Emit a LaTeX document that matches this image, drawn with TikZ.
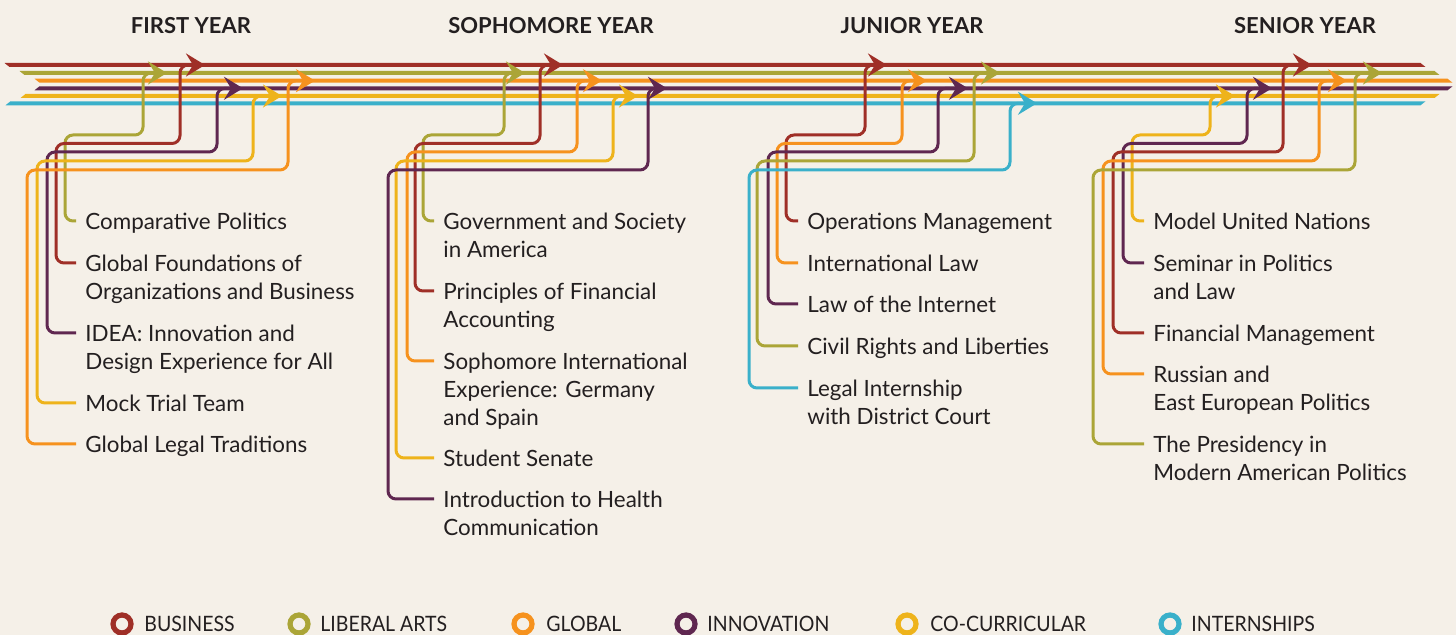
\documentclass[tikz,border=0pt]{standalone}
\usepackage{fontspec}
\setmainfont{Lato}
\newfontfamily\legendfont{Lato}[FakeStretch=0.92]
\usetikzlibrary{arrows.meta}

\definecolor{bgcream}{HTML}{F5F0E8}
\definecolor{ink}{HTML}{231F20}
\definecolor{bizred}{HTML}{9F2F27}
\definecolor{libolive}{HTML}{ABA537}
\definecolor{globorange}{HTML}{F6921E}
\definecolor{innopurple}{HTML}{5F2750}
\definecolor{cocyellow}{HTML}{EEB31B}
\definecolor{interncyan}{HTML}{3AB0CA}

\begin{document}
\begin{tikzpicture}[x=0.5pt, y=-0.5pt,
    course/.style={font=\fontsize{11.2}{14}\selectfont, text=ink, align=left, anchor=north west, inner sep=0pt},
    yearhd/.style={font=\fontsize{11}{13}\selectfont\bfseries, text=ink, anchor=base, inner sep=0pt},
    legtxt/.style={font=\fontsize{10.6}{13}\legendfont, text=ink, anchor=base west, inner sep=0pt},
    ring/.style={circle, line width=2.6pt, minimum size=9pt, inner sep=0pt},
    link/.style={line width=1.5pt, rounded corners=4pt, -{Stealth[length=9.5pt, width=11.5pt, inset=3.5pt]}}]
    \useasboundingbox (0,0) rectangle (1456,635);
    \fill[bgcream] (0,0) rectangle (1456,635);

    % headings
    \node[yearhd] (fy) at (191,34) {FIRST YEAR};
    \node[yearhd] (soy) at (551,34) {SOPHOMORE YEAR};
    \node[yearhd] (juy) at (912,34) {JUNIOR YEAR};
    \node[yearhd] (sey) at (1305,34) {SENIOR YEAR};

    % the six tracks
    \fill[bizred] (4.5,63) -- (9.5,67) -- (1425.5,67) -- (1420.5,63) -- cycle;
    \fill[libolive] (19.5,71) -- (24.5,75) -- (1439.5,75) -- (1434.5,71) -- cycle;
    \fill[globorange] (34.5,78.7) -- (39.5,82.7) -- (1452.5,82.7) -- (1447.5,78.7) -- cycle;
    \fill[innopurple] (39.5,86.3) -- (34.5,90.3) -- (1447.5,90.3) -- (1452.5,86.3) -- cycle;
    \fill[cocyellow] (25.5,94) -- (20.5,98) -- (1434.5,98) -- (1439.5,94) -- cycle;
    \fill[interncyan] (10.5,101.3) -- (5.5,105.3) -- (1420.5,105.3) -- (1425.5,101.3) -- cycle;

    % first year
    \node[course] (cp) at (85,213) {Comparative Politics};
    \node[course] (gfob) at (85,255) {Global Foundations of\\Organizations and Business};
    \node[course] (idea) at (85,325) {IDEA: Innovation and\\Design Experience for All};
    \node[course] (mtt) at (85,395) {Mock Trial Team};
    \node[course] (glt) at (85,436) {Global Legal Traditions};
    \coordinate (cpend) at (167,73);
    \coordinate (gfobend) at (205,65);
    \coordinate (ideaend) at (243,88.3);
    \coordinate (mttend) at (282,96);
    \coordinate (gltend) at (315,80.7);

    \draw[link, libolive] ([shift={(-9,8)}]cp.north west) -| (65,135) -| (143,73) -- (cpend);
    \draw[link, bizred] ([shift={(-9,8)}]gfob.north west) -| (56,143.5) -| (180,65) -- (gfobend);
    \draw[link, innopurple] ([shift={(-9,8)}]idea.north west) -| (47,152) -| (217,88.3) -- (ideaend);
    \draw[link, cocyellow] ([shift={(-9,8)}]mtt.north west) -| (37,161) -| (253,96) -- (mttend);
    \draw[link, globorange] ([shift={(-9,8)}]glt.north west) -| (27,170) -| (288,80.7) -- (gltend);

    % sophomore year
    \node[course] (gsa) at (443,213) {Government and Society\\in America};
    \node[course] (pfa) at (443,283) {Principles of Financial\\Accounting};
    \node[course] (sie) at (443,353) {Sophomore International\\Experience: Germany\\and Spain};
    \node[course] (ss) at (443,450) {Student Senate};
    \node[course] (ihc) at (443,491) {Introduction to Health\\Communication};
    \coordinate (gsaend) at (525,73);
    \coordinate (pfaend) at (563,65);
    \coordinate (sieend) at (602,80.7);
    \coordinate (ssend) at (638,96);
    \coordinate (ihcend) at (667,88.3);

    \draw[link, libolive] ([shift={(-9,8)}]gsa.north west) -| (423,135) -| (504,73) -- (gsaend);
    \draw[link, bizred] ([shift={(-9,8)}]pfa.north west) -| (415,143.5) -| (540,65) -- (pfaend);
    \draw[link, globorange] ([shift={(-9,8)}]sie.north west) -| (407,152) -| (577,80.7) -- (sieend);
    \draw[link, cocyellow] ([shift={(-9,8)}]ss.north west) -| (396,161) -| (613,96) -- (ssend);
    \draw[link, innopurple] ([shift={(-9,8)}]ihc.north west) -| (388,170) -| (648,88.3) -- (ihcend);

    % junior year
    \node[course] (om) at (807,213) {Operations Management};
    \node[course] (il) at (807,255) {International Law};
    \node[course] (loti) at (807,296) {Law of the Internet};
    \node[course] (crl) at (807,338) {Civil Rights and Liberties};
    \node[course] (li) at (807,380) {Legal Internship\\with District Court};
    \coordinate (omend) at (887,65);
    \coordinate (ilend) at (927,80.7);
    \coordinate (lotiend) at (968,88.3);
    \coordinate (crlend) at (1000,73);
    \coordinate (liend) at (1037,103.3);

    \draw[link, bizred] ([shift={(-9,8)}]om.north west) -| (786,135) -| (865,65) -- (omend);
    \draw[link, globorange] ([shift={(-9,8)}]il.north west) -| (777,143.5) -| (902,80.7) -- (ilend);
    \draw[link, innopurple] ([shift={(-9,8)}]loti.north west) -| (768,152) -| (938,88.3) -- (lotiend);
    \draw[link, libolive] ([shift={(-9,8)}]crl.north west) -| (757,161) -| (974,73) -- (crlend);
    \draw[link, interncyan] ([shift={(-9,8)}]li.north west) -| (749,170) -| (1010,103.3) -- (liend);

    % senior year
    \node[course] (mun) at (1153,213) {Model United Nations};
    \node[course] (spl) at (1153,255) {Seminar in Politics\\and Law};
    \node[course] (fm) at (1153,325) {Financial Management};
    \node[course] (reep) at (1153,366) {Russian and\\East European Politics};
    \node[course] (pmap) at (1153,436) {The Presidency in\\Modern American Politics};
    \coordinate (munend) at (1235,96);
    \coordinate (splend) at (1272,88.3);
    \coordinate (fmend) at (1312,65);
    \coordinate (reepend) at (1347,80.7);
    \coordinate (pmapend) at (1382,73);

    \draw[link, cocyellow] ([shift={(-9,8)}]mun.north west) -| (1132,135) -| (1210,96) -- (munend);
    \draw[link, innopurple] ([shift={(-9,8)}]spl.north west) -| (1123,143.5) -| (1247,88.3) -- (splend);
    \draw[link, bizred] ([shift={(-9,8)}]fm.north west) -| (1113,152) -| (1283,65) -- (fmend);
    \draw[link, globorange] ([shift={(-9,8)}]reep.north west) -| (1103,161) -| (1319,80.7) -- (reepend);
    \draw[link, libolive] ([shift={(-9,8)}]pmap.north west) -| (1093,170) -| (1355,73) -- (pmapend);

    % legend
    \node[ring, draw=bizred] (lbiz) at (122,624) {};
    \node[legtxt] (tbiz) at (144,632) {BUSINESS};
    \node[ring, draw=libolive] (llib) at (299,624) {};
    \node[legtxt] (tlib) at (320,632) {LIBERAL ARTS};
    \node[ring, draw=globorange] (lglob) at (523,624) {};
    \node[legtxt] (tglob) at (546,632) {GLOBAL};
    \node[ring, draw=innopurple] (linno) at (686,624) {};
    \node[legtxt] (tinno) at (707,632) {INNOVATION};
    \node[ring, draw=cocyellow] (lcoc) at (907,624) {};
    \node[legtxt] (tcoc) at (930,632) {CO-CURRICULAR};
    \node[ring, draw=interncyan] (lint) at (1170,624) {};
    \node[legtxt] (tint) at (1191,632) {INTERNSHIPS};
\end{tikzpicture}
\end{document}
